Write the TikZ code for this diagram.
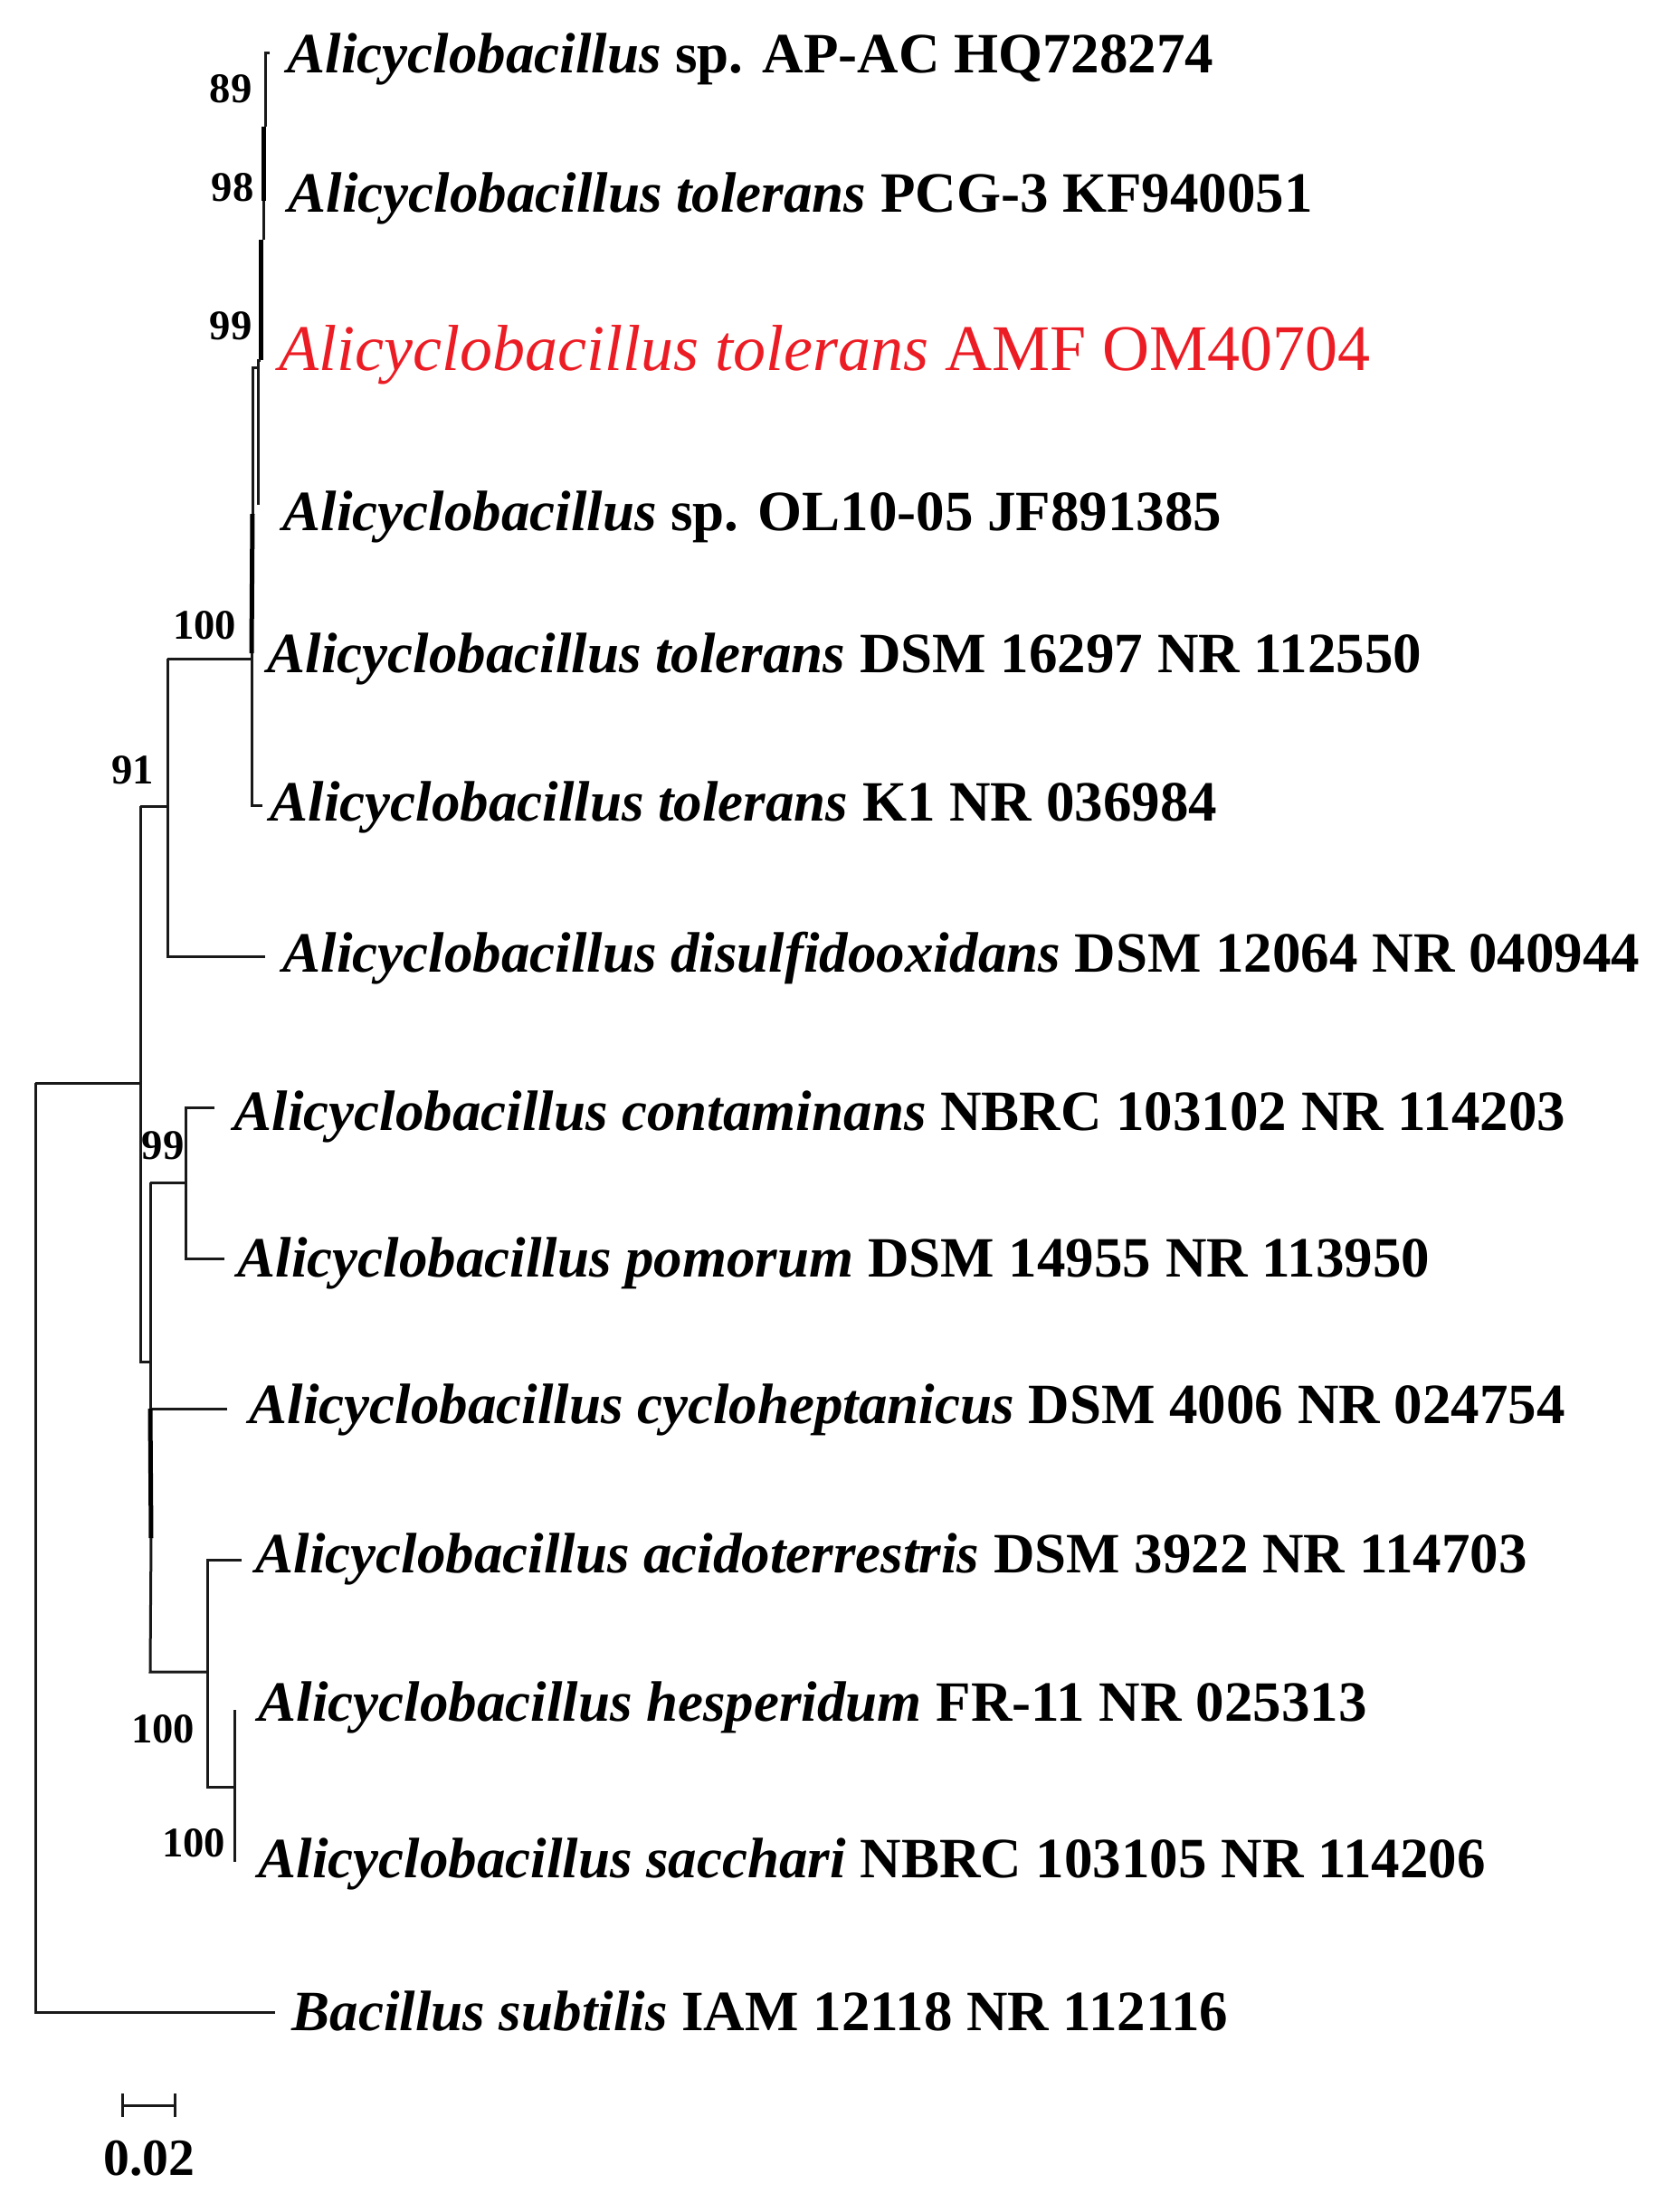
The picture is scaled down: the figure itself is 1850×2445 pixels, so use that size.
\documentclass[tikz,border=0pt]{standalone}
\usepackage{fontspec}
\setmainfont{Liberation Serif}
\definecolor{hl}{RGB}{236,28,36}
\begin{document}
\begin{tikzpicture}[x=0.3pt,y=-0.3pt,
  br/.style={line width=0.9pt,black!90,line join=miter},
  tb/.style={line width=1.5pt,black},
  lab/.style={anchor=base west,inner sep=0pt,font=\fontsize{18.9}{22}\selectfont\bfseries},
  redlab/.style={anchor=base west,inner sep=0pt,text=hl,font=\fontsize{21.6}{26}\selectfont},
  bs/.style={inner sep=0pt,font=\fontsize{14}{16}\selectfont\bfseries}]
\useasboundingbox (0,0) rectangle (1850,2445);
% labels
\node[lab] (l1) at (317,80) {\textit{Alicyclobacillus} sp. AP-AC HQ728274};
\node[lab] (l2) at (318,234) {\textit{Alicyclobacillus tolerans} PCG-3 KF940051};
\node[redlab] (l3) at (308,409) {\textit{Alicyclobacillus tolerans} AMF OM40704};
\node[lab] (l4) at (312,586) {\textit{Alicyclobacillus} sp. OL10-05 JF891385};
\node[lab] (l5) at (295,743) {\textit{Alicyclobacillus tolerans} DSM 16297 NR 112550};
\node[lab] (l6) at (298,907) {\textit{Alicyclobacillus tolerans} K1 NR 036984};
\node[lab] (l7) at (312,1074) {\textit{Alicyclobacillus disulfidooxidans} DSM 12064 NR 040944};
\node[lab] (l8) at (258,1249) {\textit{Alicyclobacillus contaminans} NBRC 103102 NR 114203};
\node[lab] (l9) at (262,1411) {\textit{Alicyclobacillus pomorum} DSM 14955 NR 113950};
\node[lab] (l10) at (275,1573) {\textit{Alicyclobacillus cycloheptanicus} DSM 4006 NR 024754};
\node[lab] (l11) at (282,1738) {\textit{Alicyclobacillus acidoterrestris} DSM 3922 NR 114703};
\node[lab] (l12) at (285,1902) {\textit{Alicyclobacillus hesperidum} FR-11 NR 025313};
\node[lab] (l13) at (285,2075) {\textit{Alicyclobacillus sacchari} NBRC 103105 NR 114206};
\node[lab] (l14) at (322,2244) {\textit{Bacillus subtilis} IAM 12118 NR 112116};
% bootstrap values
\node[bs] (b1) at (255,98) {89};
\node[bs] (b2) at (257,207) {98};
\node[bs] (b3) at (255,360) {99};
\node[bs] (b4) at (226,691) {100};
\node[bs] (b5) at (147,851) {91};
\node[bs] (b6) at (180,1266) {99};
\node[bs] (b7) at (180,1911) {100};
\node[bs] (b8) at (214,2037) {100};
% top cluster coordinates
\coordinate (t1) at (298,58);
\coordinate (a1) at (293,58);
\coordinate (a2) at (293,140);
\coordinate (a3) at (291,140);
\coordinate (a4) at (291,222);
\coordinate (a5) at (291,265);
\coordinate (a6) at (288,265);
\coordinate (a7) at (288,398);
\coordinate (a8) at (285,398);
\coordinate (a9) at (285,406);
\coordinate (a10) at (279,406);
\coordinate (a11) at (285,558);
\coordinate (a12) at (279,568);
\coordinate (n100) at (278,728);
\coordinate (n100t) at (278,722);
\coordinate (k1) at (278,890);
\coordinate (k1t) at (290,890);
\coordinate (n91a) at (185,728);
\coordinate (n91b) at (185,1057);
\coordinate (dist) at (293,1057);
\coordinate (n91c) at (185,891);
\coordinate (nAa) at (155,891);
\coordinate (nAr) at (155,1197);
\coordinate (nAb) at (155,1505);
\coordinate (nBb) at (166,1505);
\coordinate (root) at (39,1197);
\coordinate (rootb) at (39,2224);
\coordinate (bact) at (304,2224);
\coordinate (nBa) at (166,1307);
\coordinate (n99) at (205,1307);
\coordinate (n99a) at (205,1224);
\coordinate (n99b) at (205,1391);
\coordinate (cont) at (237,1224);
\coordinate (pom) at (248,1391);
\coordinate (cyc0) at (166,1557);
\coordinate (cyc) at (251,1557);
\coordinate (nBt) at (167,1700);
\coordinate (nBc) at (166,1848);
\coordinate (nC) at (229,1848);
\coordinate (nCa) at (229,1724);
\coordinate (acid) at (267,1724);
\coordinate (nCb) at (229,1975);
\coordinate (nD) at (259,1975);
\coordinate (nDa) at (259,1890);
\coordinate (nDb) at (259,2058);
% tree
\draw[br] (t1) -- (a1) -- (a2);
\draw[tb] (a3) -- (a4);
\draw[br] (a4) -- (a5);
\draw[tb] (a6) -- (a7);
\draw[br] (a7) -- (a8) -- (a11);
\draw[br] (a9) -- (a10) -- (a12);
\draw[tb] (a12) -- (n100t);
\draw[br] (n100t) -- (k1) -- (k1t);
\draw[br] (n91a) -- (n100);
\draw[br] (n91a) -- (n91b) -- (dist);
\draw[br] (nAa) -- (n91c);
\draw[br] (nAa) -- (nAb) -- (nBb);
\draw[br] (root) -- (nAr);
\draw[br] (root) -- (rootb) -- (bact);
\draw[br] (nBa) -- (n99);
\draw[br] (cont) -- (n99a) -- (n99b) -- (pom);
\draw[br] (nBa) -- (cyc0) -- (cyc);
\draw[tb] (cyc0) -- (nBt);
\draw[br] (nBt) -- (nBc) -- (nC);
\draw[br] (acid) -- (nCa) -- (nCb) -- (nD);
\draw[br] (nDa) -- (nDb);
% scale bar
\coordinate (s1) at (135,2327);
\coordinate (s2) at (193,2327);
\draw[br] (s1) -- (s2);
\draw[br] ([yshift=-13*0.3pt]s1) -- ([yshift=13*0.3pt]s1);
\draw[br] ([yshift=-13*0.3pt]s2) -- ([yshift=13*0.3pt]s2);
\node[inner sep=0pt,font=\fontsize{17.3}{20}\selectfont\bfseries] (sl) at (165,2386) {0.02};
\end{tikzpicture}
\end{document}
